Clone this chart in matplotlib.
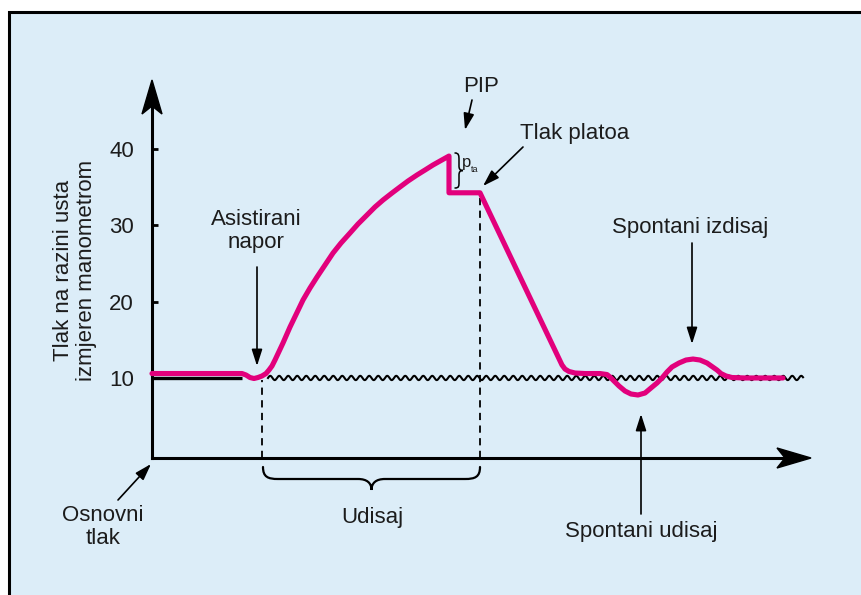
import numpy as np
import matplotlib
matplotlib.use("Agg")
import matplotlib.pyplot as plt
from matplotlib.path import Path
from matplotlib.patches import PathPatch, Polygon, Rectangle, FancyArrowPatch
from matplotlib.transforms import Affine2D

plt.rcParams['font.family'] = ['Liberation Sans', 'DejaVu Sans']

# pressure curve (time in arbitrary units, pressure)
t_curve = [0.0, 9.0, 9.4, 9.8, 10.2, 10.6, 11.0, 11.4, 11.7, 12.0, 12.3, 13.1,
           13.8, 14.5, 15.1, 15.8, 16.5, 17.3, 18.1, 18.9, 19.8, 20.6, 21.5,
           22.3, 23.1, 24.0, 24.8, 25.6, 26.5, 27.3, 28.1, 28.9, 29.7,
           29.7, 32.8, 41.0, 41.3, 41.7, 42.3, 43.3, 44.8, 45.5,
           45.8, 46.2, 46.7, 47.3, 47.9, 48.6, 49.3, 49.9, 50.5, 51.0, 51.5,
           52.0, 52.7, 53.4, 54.1, 54.8, 55.5, 56.0, 56.5, 56.9, 57.4, 58.0,
           59.3, 63.1]
p_curve = [10.58, 10.58, 10.39, 10.06, 9.93, 10.06, 10.26, 10.58, 11.04, 11.57, 12.35, 14.58,
           16.67, 18.57, 20.21, 21.78, 23.22, 24.79, 26.36, 27.67, 28.98, 30.16, 31.34,
           32.39, 33.30, 34.22, 35.01, 35.79, 36.58, 37.23, 37.89, 38.48, 39.06,
           34.25, 34.25, 11.70, 11.17, 10.85, 10.65, 10.58, 10.58, 10.45,
           10.13, 9.60, 8.95, 8.29, 7.90, 7.77, 8.03, 8.69, 9.34, 10.0, 10.78,
           11.44, 11.96, 12.35, 12.48, 12.35, 11.96, 11.50, 11.04, 10.58, 10.26, 10.06,
           10.0, 10.0]

baseline_p = 10
baseline_solid = [0.0, 9.0]
baseline_wavy = [11.6, 65.1]
inspiration = [11.0, 32.8]      # start/end of the assisted breath
plateau_p = 34.25

y_ticks = [10, 20, 30, 40]
pink = '#e2007c'
ink = '#1c1c1c'
W, H = 861, 595

fig = plt.figure(figsize=(W / 100, H / 100), dpi=100)
fig.patch.set_facecolor('white')
# pixel coords measured from the top-left corner of the picture
pix = Affine2D().scale(1.0 / W, -1.0 / H).translate(0, 1) + fig.transFigure

fig.patches.append(Rectangle((8.5, 11.5), 900, 700, transform=pix, facecolor='#dcedf8',
                             edgecolor='black', lw=2.2, zorder=-5))

ax = fig.add_axes([152 / W, (H - 458) / H, (790 - 152) / W, (458 - 100) / H])
ax.set_xlim(0, 63.8)
ax.set_ylim(-0.48, 46.4)
ax.patch.set_alpha(0)
for s in ['top', 'right']:
    ax.spines[s].set_visible(False)
for s in ['left', 'bottom']:
    ax.spines[s].set_linewidth(2.2)
    ax.spines[s].set_color('black')
ax.set_xticks([])
ax.set_yticks(y_ticks)
ax.set_yticklabels([str(v) for v in y_ticks])
ax.tick_params(axis='y', direction='in', length=4, width=2, pad=13, labelsize=16, labelcolor=ink)

# axis arrow heads
fig.patches.append(Polygon([(152, 80), (142, 114), (152, 106), (162, 114)], closed=True,
                           transform=pix, color='black', zorder=5))
fig.patches.append(Polygon([(811, 458), (777, 448), (785, 458), (777, 468)], closed=True,
                           transform=pix, color='black', zorder=5))
ax.plot([63.8, 64.0], [-0.48, -0.48], color='black', lw=2.2, clip_on=False, solid_capstyle='butt')
ax.plot([0, 0], [46.4, 46.6], color='black', lw=2.2, clip_on=False, solid_capstyle='butt')

# baseline: solid before the breath, wavy afterwards
ax.plot(baseline_solid, [baseline_p, baseline_p], color='black', lw=2.4, solid_capstyle='butt',
        zorder=2)
tw = np.linspace(baseline_wavy[0], baseline_wavy[1], 1200)
ax.plot(tw, baseline_p + 0.28 * np.sin(2 * np.pi * (tw - tw[0]) / 0.9), color='black', lw=1.5,
        clip_on=False, zorder=2)

ax.vlines(inspiration, -0.48, [baseline_p - 0.3, plateau_p], colors='black', lw=1.3,
          linestyles=(0, (4, 3)), zorder=1)

ax.plot(t_curve, p_curve, color=pink, lw=3.7, solid_joinstyle='round', solid_capstyle='round',
        clip_on=False, zorder=3)


def brace(verts, lw):
    codes = [Path.MOVETO] + [Path.CURVE4] * 3 + [Path.LINETO] + [Path.CURVE4] * 3 + \
            [Path.CURVE4] * 3 + [Path.LINETO] + [Path.CURVE4] * 3
    fig.patches.append(PathPatch(Path(verts, codes), transform=pix, fill=False,
                                 edgecolor='black', lw=lw, capstyle='round'))


brace([(263, 467), (263, 477), (268, 479), (278, 479), (358, 479),
       (367, 479), (371.5, 483), (371.5, 490),
       (371.5, 483), (376, 479), (385, 479), (465, 479),
       (475, 479), (480, 477), (480, 467)], 1.6)
brace([(455, 153), (459, 153), (459, 156), (459, 160), (459, 166),
       (459, 169), (460, 170.5), (463, 170.5),
       (460, 170.5), (459, 172), (459, 175), (459, 182),
       (459, 186), (459, 188), (455, 188)], 1.1)


def arrow(a, b):
    fig.patches.append(FancyArrowPatch(a, b, transform=pix, arrowstyle='-|>,head_length=1.0,head_width=0.32',
                                       mutation_scale=10, color='black', lw=1.2, shrinkA=0, shrinkB=0))


arrow((472, 100), (465, 130))
arrow((523, 147), (483, 186))
arrow((257, 267), (257, 366))
arrow((692, 243), (692, 344))
arrow((641, 514), (641, 414))
arrow((118, 500), (151, 464))

txt = dict(transform=pix, ha='center', va='center', fontsize=16, color=ink)
fig.text(481, 86, 'PIP', **txt)
fig.text(575, 133, 'Tlak platoa', **txt)
fig.text(256, 231, 'Asistirani\nnapor', linespacing=1.15, **txt)
fig.text(690, 228, 'Spontani izdisaj', **txt)
fig.text(641, 532, 'Spontani udisaj', **txt)
fig.text(103, 527, 'Osnovni\ntlak', linespacing=1.1, **txt)
fig.text(372, 517, 'Udisaj', **txt)
fig.text(75, 270, 'Tlak na razini usta\nizmjeren manometrom', rotation=90, linespacing=1.1, **txt)
fig.text(462, 167, 'p', transform=pix, ha='left', va='baseline', fontsize=12, color=ink)
fig.text(471, 172, 'ta', transform=pix, ha='left', va='baseline', fontsize=6.5, color=ink)

fig.savefig('out.png', dpi=100, facecolor='white')
